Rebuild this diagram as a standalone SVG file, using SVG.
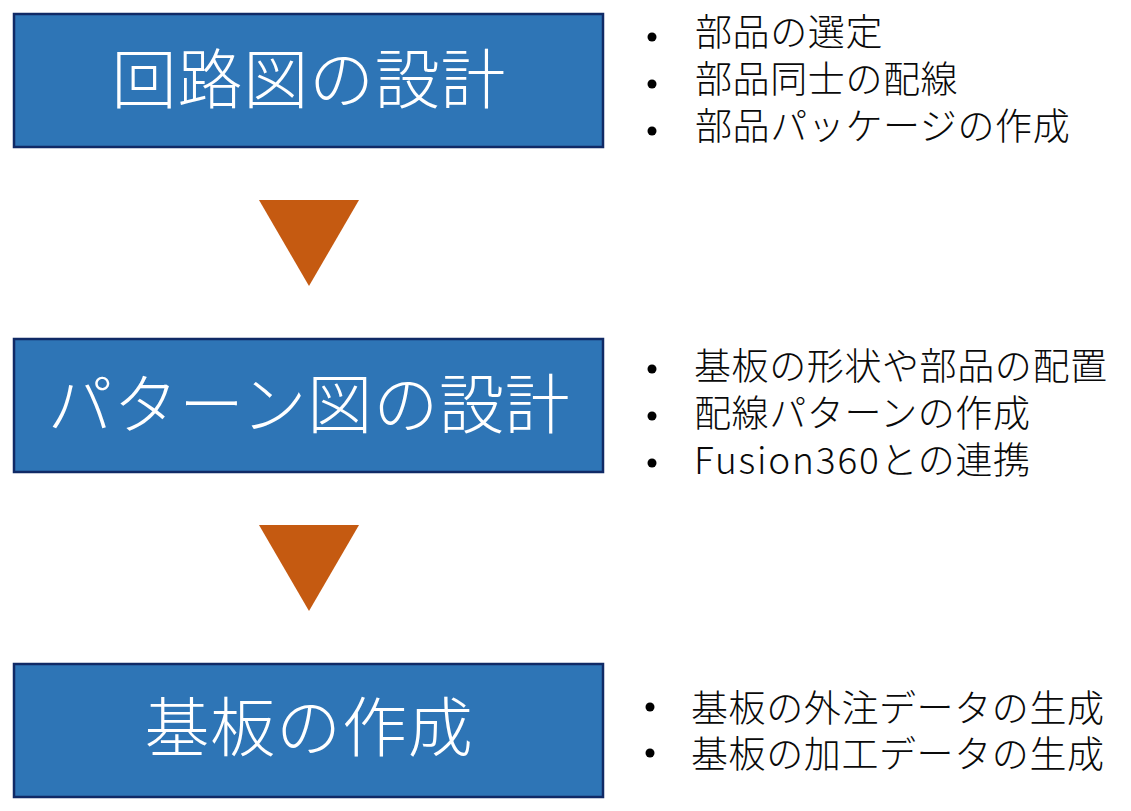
<svg xmlns="http://www.w3.org/2000/svg" width="1131" height="811" viewBox="0 0 1131 811">
<style>
.box{fill:#2E75B6;stroke:#102A66;stroke-width:2.5}
.title{font-family:"Noto Sans CJK JP","Noto Sans",sans-serif;font-weight:300;font-size:65px;fill:#FFFFFF;text-anchor:middle;letter-spacing:0.8px}
.item{font-family:"Noto Sans CJK JP","Noto Sans",sans-serif;font-weight:300;font-size:37px;fill:#0A0A0A;letter-spacing:0.6px}
.latin{letter-spacing:1.8px}
.dot{fill:#000000}
.arrow{fill:#C55A11}
</style>
<rect width="1131" height="811" fill="#FFFFFF"/>
<g id="node-circuit">
<rect class="box" x="14" y="14" width="589" height="133"/>
<text class="title" x="309" y="103">回路図の設計</text>
</g>
<g id="list-circuit">
<circle class="dot" cx="652" cy="37" r="4.5"/>
<circle class="dot" cx="652" cy="84" r="4.5"/>
<circle class="dot" cx="652" cy="131" r="4.5"/>
<text class="item" x="695" y="46">部品の選定</text>
<text class="item" x="695" y="93">部品同士の配線</text>
<text class="item" x="695" y="140">部品パッケージの作成</text>
</g>
<g id="node-pattern">
<rect class="box" x="14" y="339" width="589" height="133"/>
<text class="title" x="309" y="428">パターン図の設計</text>
</g>
<g id="list-pattern">
<circle class="dot" cx="652" cy="369" r="4.5"/>
<circle class="dot" cx="652" cy="416" r="4.5"/>
<circle class="dot" cx="652" cy="463" r="4.5"/>
<text class="item" x="694" y="380">基板の形状や部品の配置</text>
<text class="item" x="694" y="427">配線パターンの作成</text>
<text class="item" x="694" y="474"><tspan class="latin">Fusion360</tspan>との連携</text>
</g>
<g id="node-board">
<rect class="box" x="14" y="664" width="589" height="133"/>
<text class="title" x="309" y="751">基板の作成</text>
</g>
<g id="list-board">
<circle class="dot" cx="650" cy="707" r="4.5"/>
<circle class="dot" cx="650" cy="753" r="4.5"/>
<text class="item" x="691" y="722">基板の外注データの生成</text>
<text class="item" x="691" y="768">基板の加工データの生成</text>
</g>
<g id="connectors">
<polygon class="arrow" points="259,200 359,200 309,286"/>
<polygon class="arrow" points="259,525 359,525 309,611"/>
</g>
</svg>
